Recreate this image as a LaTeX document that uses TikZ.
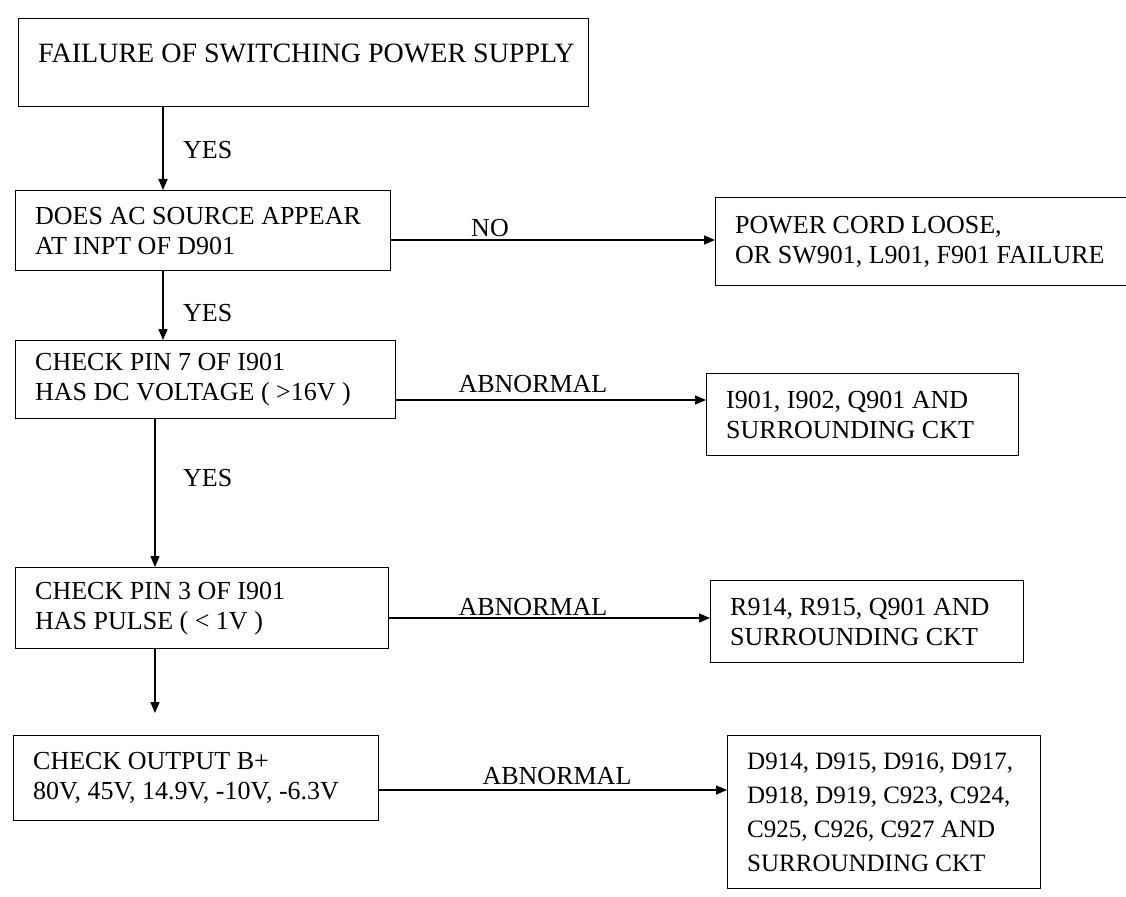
\documentclass[tikz,border=0pt]{standalone}
\usepackage{fontspec}
\setmainfont{Liberation Serif}
\usetikzlibrary{arrows.meta}
\begin{document}
\begin{tikzpicture}[x=1pt,y=-1pt,
  box/.style={draw, line width=1.4pt, rectangle, anchor=north west, inner sep=0pt},
  txt/.style={anchor=west, inner sep=0pt, align=left, font=\fontsize{26}{30}\selectfont},
  lbl/.style={font=\fontsize{26}{30}\selectfont, inner sep=0pt},
  arr/.style={line width=1.3pt, -{Triangle[length=11pt,width=9pt]}}]
\useasboundingbox (0,0) rectangle (1126,896);
% left column boxes
\node[box, minimum width=570pt, minimum height=88pt] (b1) at (18,18) {};
\node[box, minimum width=375pt, minimum height=80pt] (b2) at (15,190) {};
\node[box, minimum width=380pt, minimum height=78pt] (b3) at (15,340) {};
\node[box, minimum width=373pt, minimum height=81pt] (b4) at (15,567) {};
\node[box, minimum width=365pt, minimum height=85pt] (b5) at (13,735) {};
% right column boxes
\node[box, minimum width=415pt, minimum height=88pt] (r1) at (715,197) {};
\node[box, minimum width=312pt, minimum height=82pt] (r2) at (706,373) {};
\node[box, minimum width=313pt, minimum height=82pt] (r3) at (710,580) {};
\node[box, minimum width=313pt, minimum height=153pt] (r4) at (727,735) {};
% box texts
\node[txt, font=\fontsize{28}{30}\selectfont] (t1) at ([xshift=20pt,yshift=9pt]b1.west) {FAILURE OF SWITCHING POWER SUPPLY};
\node[txt] (t2) at ([xshift=20pt]b2.west) {DOES AC SOURCE APPEAR\\AT INPT OF D901};
\node[txt] (t3) at ([xshift=20pt]b3.west) {CHECK PIN 7 OF I901\\HAS DC VOLTAGE ( >16V )};
\node[txt] (t4) at ([xshift=20pt]b4.west) {CHECK PIN 3 OF I901\\HAS PULSE ( < 1V )};
\node[txt] (t5) at ([xshift=20pt]b5.west) {CHECK OUTPUT B+\\80V, 45V, 14.9V, -10V, -6.3V};
\node[txt] (u1) at ([xshift=20pt]r1.west) {POWER CORD LOOSE,\\OR SW901, L901, F901 FAILURE};
\node[txt] (u2) at ([xshift=20pt]r2.west) {I901, I902, Q901 AND\\SURROUNDING CKT};
\node[txt] (u3) at ([xshift=20pt]r3.west) {R914, R915, Q901 AND\\SURROUNDING CKT};
\node[txt, font=\fontsize{25}{34}\selectfont] (u4) at ([xshift=20pt]r4.west) {D914, D915, D916, D917,\\D918, D919, C923, C924,\\C925, C926, C927 AND\\SURROUNDING CKT};
% vertical connectors
\draw[arr] (163,0 |- b1.south) -- (163,0 |- b2.north);
\draw[arr] (163,0 |- b2.south) -- (163,0 |- b3.north);
\draw[arr] (155,0 |- b3.south) -- (155,0 |- b4.north);
\coordinate (e4) at (155,713);
\draw[arr] (155,0 |- b4.south) -- (e4);
% horizontal connectors
\draw[arr] (b2.east |- 0,240) -- (r1.west |- 0,240);
\draw[arr] (b3.east |- 0,400) -- (r2.west |- 0,400);
\draw[arr] (b4.east |- 0,618) -- (r3.west |- 0,618);
\draw[arr] (b5.east |- 0,790) -- (r4.west |- 0,790);
% labels
\node[lbl, anchor=west] (y1) at (183,150) {YES};
\node[lbl, anchor=west] (y2) at (183,313) {YES};
\node[lbl, anchor=west] (y3) at (183,478) {YES};
\node[lbl] (no) at (490,228) {NO};
\node[lbl] (ab1) at (533,384) {ABNORMAL};
\node[lbl] (ab2) at (533,607) {ABNORMAL};
\node[lbl] (ab3) at (557,776) {ABNORMAL};
\end{tikzpicture}
\end{document}
